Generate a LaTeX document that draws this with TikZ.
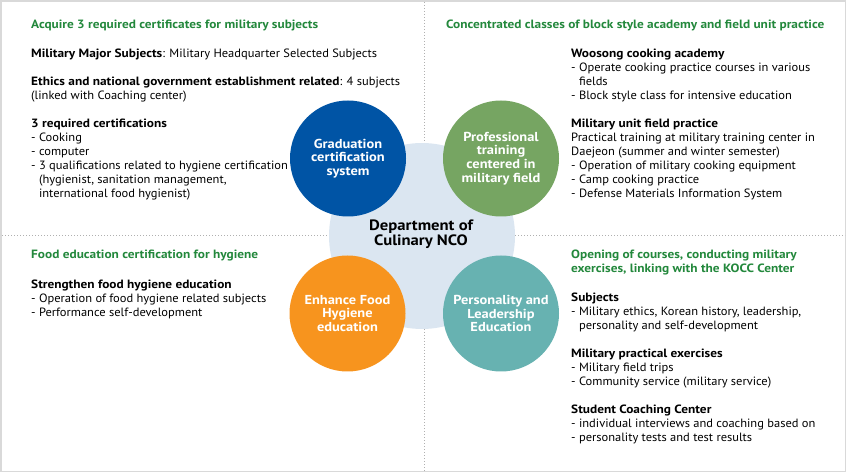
\documentclass[tikz,border=0pt]{standalone}
\usepackage{fontspec}
\setmainfont{PT Sans}[FakeStretch=1.04,BoldFeatures={FakeStretch=1.11}]
\definecolor{cblue}{HTML}{0054A5}
\definecolor{cgreen}{HTML}{76A562}
\definecolor{corange}{HTML}{F7941E}
\definecolor{cteal}{HTML}{67B2B1}
\definecolor{clight}{HTML}{DBE6F1}
\definecolor{chead}{HTML}{23883C}
\definecolor{cframe}{HTML}{D9D9D9}
\definecolor{cdot}{HTML}{B0B0B0}
\begin{document}
\begin{tikzpicture}[x=1pt,y=-1pt,
  disc/.style={circle,minimum size=116pt,inner sep=0pt,text=white,align=center,
    font=\fontsize{13}{13.8}\selectfont\bfseries},
  head/.style={anchor=base west,inner sep=0pt,text=chead,align=left,
    font=\fontsize{12}{14}\selectfont\bfseries},
  body/.style={anchor=north west,inner sep=0pt,align=left,
    font=\fontsize{12}{14}\selectfont},
  sep/.style={cdot,line width=1pt,dotted}]
\useasboundingbox (0,0) rectangle (847,473);
\draw[cframe,line width=1.5pt] (1,1) rectangle (845.5,471.5);
\coordinate (vt) at (424,2);
\coordinate (vb) at (424,471);
\coordinate (hl) at (2,236);
\coordinate (hr) at (845,236);
\draw[sep] (vt) -- (vb);
\draw[sep] (hl) -- (hr);
\node[circle,fill=clight,minimum size=186pt,inner sep=0pt] (c) at (422,236) {};
\node[disc,fill=cblue] (g) at (348,158.5) {Graduation\\certification\\system};
\node[disc,fill=cgreen] (p) at (501,158.5) {Professional\\training\\centered in\\military field};
\node[disc,fill=corange] (f) at (347.5,313.5) {Enhance Food\\Hygiene\\education};
\node[disc,fill=cteal] (l) at (501,313.5) {Personality and\\Leadership\\Education};
\node[align=center,font=\fontsize{15}{14.5}\selectfont\bfseries] (ct) at (421,234) {Department of\\Culinary NCO};
% top left
\node[head] (h1) at (31,29) {Acquire 3 required certificates for military subjects};
\node[body] (b1) at (31,48.5) {\textbf{Military Major Subjects}: Military Headquarter Selected Subjects\\[14pt]
\textbf{Ethics and national government establishment related}: 4 subjects\\
(linked with Coaching center)\\[14pt]
\textbf{3 required certifications}\\
- Cooking\\
- computer\\
- 3 qualifications related to hygiene certification\\
\hphantom{- }(hygienist, sanitation management,\\
\hphantom{- }international food hygienist)};
% top right
\node[head] (h2) at (446,29) {Concentrated classes of block style academy and field unit practice};
\node[body] (b2) at (571,48.5) {\textbf{Woosong cooking academy}\\
- Operate cooking practice courses in various\\
\hphantom{- }fields\\
- Block style class for intensive education\\[14pt]
\textbf{Military unit field practice}\\
Practical training at military training center in\\
Daejeon (summer and winter semester)\\
- Operation of military cooking equipment\\
- Camp cooking practice\\
- Defense Materials Information System};
% bottom left
\node[head] (h3) at (31,259) {Food education certification for hygiene};
\node[body] (b3) at (31,279.5) {\textbf{Strengthen food hygiene education}\\
- Operation of food hygiene related subjects\\
- Performance self-development};
% bottom right
\node[head,anchor=north west] (h4) at (571,250) {Opening of courses, conducting military\\exercises, linking with the KOCC Center};
\node[body] (b4) at (571,292.5) {\textbf{Subjects}\\
- Military ethics, Korean history, leadership,\\
\hphantom{- }personality and self-development\\[14pt]
\textbf{Military practical exercises}\\
- Military field trips\\
- Community service (military service)\\[14pt]
\textbf{Student Coaching Center}\\
- individual interviews and coaching based on\\
- personality tests and test results};
\end{tikzpicture}
\end{document}
